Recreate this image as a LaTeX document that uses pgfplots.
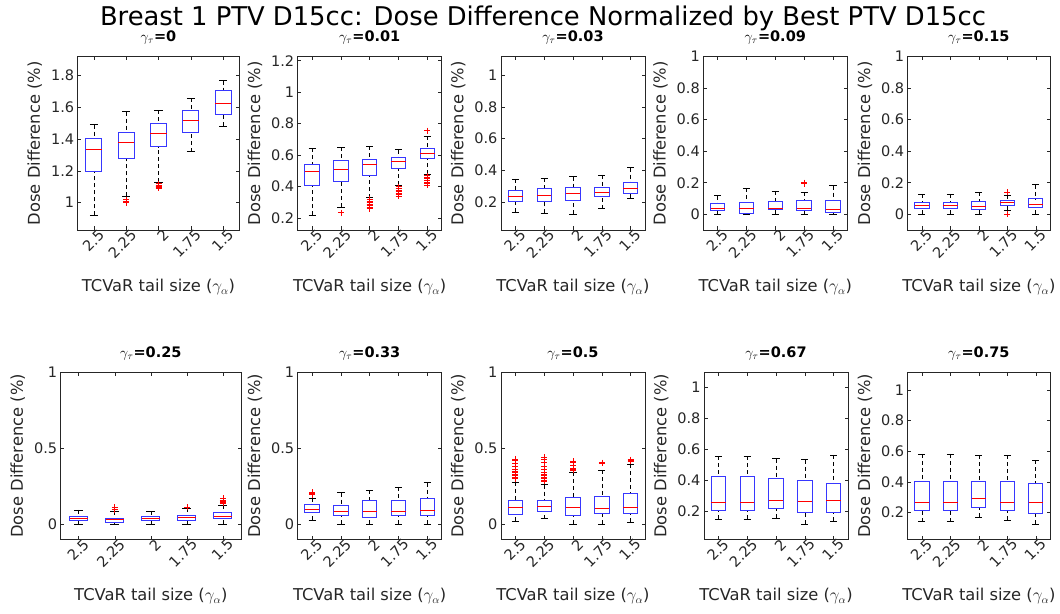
\documentclass[border=0pt]{standalone}
\usepackage{pgfplots}
\pgfplotsset{compat=1.18}
\usepgfplotslibrary{statistics}
\usepackage{fontspec}
\setmainfont{DejaVu Sans}
\definecolor{axgray}{RGB}{38,38,38}
\definecolor{boxblue}{RGB}{55,55,255}
\newcommand\tickfont{\fontsize{14.5}{14.5}\selectfont}
\newcommand\labfont{\fontsize{16.3}{16.3}\selectfont}
\newcommand\ttlfont{\fontsize{14.5}{14.5}\selectfont}
\newcommand\ptitle[1]{\node[anchor=base, inner sep=0pt, font=\ttlfont] at ([yshift=15pt]rel axis cs:0.5,1) {$\gamma_\tau$\textbf{=#1}};}

\pgfplotsset{
  panel/.style={
    scale only axis,
    width=144pt, height=173.3pt,
    anchor=north west,
    xmin=0.5, xmax=5.5,
    xtick={1,2,3,4,5},
    xticklabels={2.5,2.25,2,1.75,1.5},
    xticklabel style={font=\tickfont, text=axgray, xshift=10pt, rotate=45, anchor=east},
    yticklabel style={font=\tickfont, text=axgray},
    /pgf/number format/assume math mode=true,
    tick align=inside,
    tick pos=both,
    major tick length=3.5pt,
    axis line style={draw=axgray, line width=0.6pt},
    every tick/.style={axgray, line width=0.5pt},
    xlabel={TCVaR tail size ($\gamma_\alpha$)},
    ylabel={Dose Difference (\%)},
    xlabel style={at={([yshift=-61.5pt]axis description cs:0.5,0)}, anchor=base, font=\labfont, text=axgray},
    ylabel style={at={([xshift=-37.7pt]axis description cs:0,0.5)}, rotate=0, anchor=base, font=\labfont, text=axgray},
    clip=false,
  },
  mybox/.style={
    boxblue, solid, line width=1pt, mark=none,
    boxplot/draw direction=y,
    boxplot/box extend=0.5,
    boxplot/whisker extend=0.25,
    boxplot/every box/.style={draw=boxblue, solid, line width=1pt, fill=none},
    boxplot/every median/.style={draw=red, solid, line width=0.8pt},
    boxplot/draw/lower whisker/.code={%
      \draw[black, line width=0.6pt, dash pattern=on 4pt off 3pt]
        (boxplot box cs:\pgfplotsboxplotvalue{lower whisker},0.5) --
        (boxplot box cs:\pgfplotsboxplotvalue{lower quartile},0.5);
      \draw[black, solid, line width=0.6pt]
        (boxplot whisker cs:\pgfplotsboxplotvalue{lower whisker},0) --
        (boxplot whisker cs:\pgfplotsboxplotvalue{lower whisker},1);
    },
    boxplot/draw/upper whisker/.code={%
      \draw[black, line width=0.6pt, dash pattern=on 4pt off 3pt]
        (boxplot box cs:\pgfplotsboxplotvalue{upper whisker},0.5) --
        (boxplot box cs:\pgfplotsboxplotvalue{upper quartile},0.5);
      \draw[black, solid, line width=0.6pt]
        (boxplot whisker cs:\pgfplotsboxplotvalue{upper whisker},0) --
        (boxplot whisker cs:\pgfplotsboxplotvalue{upper whisker},1);
    },
  },
  outl/.style={only marks, mark=+, mark size=3pt, red, line width=0.6pt},
}
% \bx{pos}{lower whisker}{q1}{median}{q3}{upper whisker}
\newcommand{\bx}[6]{%
  \addplot[mybox, boxplot prepared={draw position=#1, lower whisker=#2,
    lower quartile=#3, median=#4, upper quartile=#5, upper whisker=#6}] coordinates {};
}

\begin{document}
\begin{tikzpicture}
\useasboundingbox (0pt,0pt) rectangle (1060pt,613pt);
\node[anchor=base, font=\fontsize{25.8}{25.8}\selectfont] at (543pt,587pt)
  {Breast 1 PTV D15cc: Dose Difference Normalized by Best PTV D15cc};

% ---------- gamma_tau = 0
\begin{axis}[panel, at={(77.7pt,556.3pt)}, width=161.6pt,
  ymin=0.829, ymax=1.915, ytick={1,1.2,1.4,1.6,1.8}]
\bx{1}{0.92}{1.195}{1.335}{1.405}{1.49}
\bx{2}{1.04}{1.275}{1.38}{1.44}{1.57}
\bx{3}{1.13}{1.35}{1.435}{1.495}{1.58}
\bx{4}{1.32}{1.44}{1.515}{1.575}{1.655}
\bx{5}{1.48}{1.55}{1.62}{1.705}{1.765}
\addplot[outl] coordinates {(2,1.00) (2,1.005) (2,1.01) (2,1.02)
  (3,1.09) (3,1.095) (3,1.10) (3,1.105) (3,1.11) (3,1.12)};
\ptitle{0}
\end{axis}

% ---------- gamma_tau = 0.01
\begin{axis}[panel, at={(297.7pt,556.3pt)},
  ymin=0.125, ymax=1.225, ytick={0.2,0.4,0.6,0.8,1,1.2}]
\bx{1}{0.22}{0.405}{0.50}{0.54}{0.645}
\bx{2}{0.27}{0.435}{0.51}{0.565}{0.65}
\bx{3}{0.33}{0.47}{0.54}{0.57}{0.655}
\bx{4}{0.41}{0.515}{0.56}{0.585}{0.635}
\bx{5}{0.48}{0.58}{0.61}{0.64}{0.72}
\addplot[outl] coordinates {(2,0.235)
  (3,0.26) (3,0.27) (3,0.28) (3,0.29) (3,0.30) (3,0.31) (3,0.32)
  (4,0.34) (4,0.35) (4,0.36) (4,0.37) (4,0.38) (4,0.39) (4,0.40)
  (5,0.41) (5,0.42) (5,0.43) (5,0.44) (5,0.45) (5,0.46) (5,0.47) (5,0.755)};
\ptitle{0.01}
\end{axis}

% ---------- gamma_tau = 0.03
\begin{axis}[panel, at={(501pt,556.3pt)},
  ymin=0.025, ymax=1.115, ytick={0.2,0.4,0.6,0.8,1}]
\bx{1}{0.137}{0.204}{0.235}{0.271}{0.347}
\bx{2}{0.13}{0.204}{0.245}{0.284}{0.35}
\bx{3}{0.125}{0.21}{0.255}{0.294}{0.361}
\bx{4}{0.16}{0.235}{0.26}{0.292}{0.372}
\bx{5}{0.225}{0.255}{0.285}{0.323}{0.418}
\ptitle{0.03}
\end{axis}

% ---------- gamma_tau = 0.09
\begin{axis}[panel, at={(703.3pt,556.3pt)},
  ymin=-0.1, ymax=1, ytick={0,0.2,0.4,0.6,0.8,1}]
\bx{1}{0.0}{0.021}{0.038}{0.066}{0.118}
\bx{2}{0.0}{0.006}{0.038}{0.074}{0.165}
\bx{3}{0.0}{0.027}{0.038}{0.08}{0.148}
\bx{4}{0.0}{0.021}{0.038}{0.087}{0.14}
\bx{5}{0.0}{0.01}{0.032}{0.085}{0.182}
\addplot[outl] coordinates {(4,0.195) (4,0.20)};
\ptitle{0.09}
\end{axis}

% ---------- gamma_tau = 0.15
\begin{axis}[panel, at={(907.7pt,556.3pt)}, width=142.3pt,
  ymin=-0.1, ymax=1, ytick={0,0.2,0.4,0.6,0.8,1}]
\bx{1}{0.0}{0.034}{0.055}{0.076}{0.129}
\bx{2}{0.0}{0.038}{0.055}{0.076}{0.129}
\bx{3}{0.0}{0.032}{0.048}{0.08}{0.14}
\bx{4}{0.025}{0.055}{0.072}{0.087}{0.12}
\bx{5}{0.0}{0.045}{0.064}{0.097}{0.187}
\addplot[outl] coordinates {(4,0.14) (4,0.0)};
\ptitle{0.15}
\end{axis}

% ---------- gamma_tau = 0.25
\begin{axis}[panel, at={(60.7pt,240.7pt)}, width=180.3pt, height=167pt,
  ymin=-0.1, ymax=1, ytick={0,0.5,1}]
\bx{1}{0.0}{0.024}{0.039}{0.053}{0.094}
\bx{2}{0.0}{0.011}{0.028}{0.039}{0.085}
\bx{3}{0.0}{0.022}{0.035}{0.05}{0.085}
\bx{4}{0.0}{0.022}{0.044}{0.059}{0.105}
\bx{5}{0.0}{0.037}{0.053}{0.077}{0.125}
\addplot[outl] coordinates {(2,0.095) (2,0.10) (2,0.11) (4,0.11)
  (5,0.14) (5,0.145) (5,0.15) (5,0.155) (5,0.16) (5,0.17)};
\ptitle{0.25}
\end{axis}

% ---------- gamma_tau = 0.33
\begin{axis}[panel, at={(297.7pt,240.7pt)}, height=167pt,
  ymin=-0.1, ymax=1, ytick={0,0.5,1}]
\bx{1}{0.026}{0.077}{0.098}{0.127}{0.17}
\bx{2}{0.0}{0.055}{0.085}{0.123}{0.208}
\bx{3}{0.0}{0.044}{0.085}{0.158}{0.223}
\bx{4}{0.0}{0.055}{0.081}{0.153}{0.245}
\bx{5}{0.0}{0.059}{0.092}{0.171}{0.274}
\addplot[outl] coordinates {(1,0.195) (1,0.20) (1,0.21)};
\ptitle{0.33}
\end{axis}

% ---------- gamma_tau = 0.5
\begin{axis}[panel, at={(501pt,240.7pt)}, height=167pt,
  ymin=-0.1, ymax=1, ytick={0,0.5,1}]
\bx{1}{0.02}{0.063}{0.112}{0.158}{0.278}
\bx{2}{0.037}{0.083}{0.116}{0.153}{0.26}
\bx{3}{0.0}{0.055}{0.109}{0.173}{0.34}
\bx{4}{0.0}{0.07}{0.105}{0.184}{0.357}
\bx{5}{0.015}{0.072}{0.109}{0.204}{0.394}
\addplot[outl] coordinates {
  (1,0.30) (1,0.31) (1,0.32) (1,0.33) (1,0.34) (1,0.35) (1,0.36) (1,0.38) (1,0.40) (1,0.42) (1,0.43)
  (2,0.285) (2,0.29) (2,0.30) (2,0.31) (2,0.32) (2,0.33) (2,0.34) (2,0.36) (2,0.38) (2,0.41) (2,0.43) (2,0.44)
  (3,0.355) (3,0.36) (3,0.365) (3,0.37) (3,0.39) (3,0.405) (3,0.415)
  (4,0.40) (4,0.405)
  (5,0.415) (5,0.42) (5,0.425)};
\ptitle{0.5}
\end{axis}

% ---------- gamma_tau = 0.67
\begin{axis}[panel, at={(704pt,240.7pt)}, height=167pt,
  ymin=0.015, ymax=1.1, ytick={0.2,0.4,0.6,0.8,1}]
\bx{1}{0.146}{0.2}{0.257}{0.424}{0.554}
\bx{2}{0.146}{0.2}{0.257}{0.424}{0.554}
\bx{3}{0.152}{0.215}{0.267}{0.409}{0.539}
\bx{4}{0.113}{0.191}{0.261}{0.4}{0.533}
\bx{5}{0.135}{0.189}{0.27}{0.38}{0.563}
\ptitle{0.67}
\end{axis}

% ---------- gamma_tau = 0.75
\begin{axis}[panel, at={(907.7pt,240.7pt)}, width=142.3pt, height=167pt,
  ymin=0.025, ymax=1.115, ytick={0.2,0.4,0.6,0.8,1}]
\bx{1}{0.141}{0.215}{0.268}{0.405}{0.582}
\bx{2}{0.141}{0.215}{0.268}{0.405}{0.582}
\bx{3}{0.169}{0.235}{0.29}{0.403}{0.573}
\bx{4}{0.152}{0.213}{0.263}{0.405}{0.573}
\bx{5}{0.124}{0.193}{0.268}{0.39}{0.541}
\ptitle{0.75}
\end{axis}
\end{tikzpicture}
\end{document}
